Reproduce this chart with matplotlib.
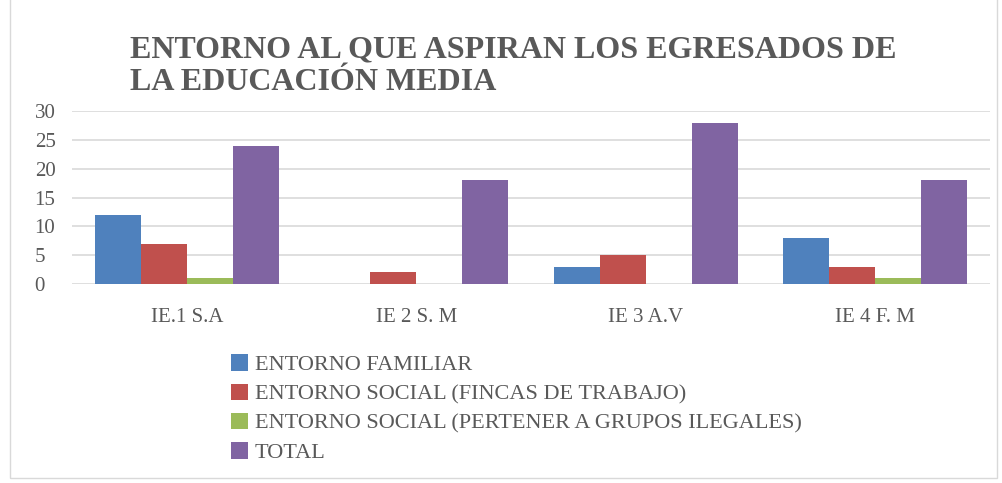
import numpy as np
import matplotlib.pyplot as plt
from matplotlib.patches import Rectangle

categories = ["IE.1 S.A", "IE 2 S. M", "IE 3 A.V", "IE 4 F. M"]
familiar = [12, 0, 3, 8]
fincas = [7, 2, 5, 3]
ilegales = [1, 0, 0, 1]
total = [24, 18, 28, 18]

series_names = ["ENTORNO FAMILIAR",
                "ENTORNO SOCIAL (FINCAS DE TRABAJO)",
                "ENTORNO SOCIAL (PERTENER A GRUPOS ILEGALES)",
                "TOTAL"]
colors = ["#4f81bd", "#c0504d", "#9bbb59", "#8064a2"]
text_color = "#595959"
font = "Liberation Serif"

fig = plt.figure(figsize=(10.02, 4.83), dpi=100)
ax = fig.add_axes([0.072, 0.412, 0.916, 0.358])

x = np.arange(len(categories))
width = 0.2
for i, (vals, name, c) in enumerate(zip([familiar, fincas, ilegales, total], series_names, colors)):
    ax.bar(x + (i - 1.5) * width, vals, width, color=c, label=name, zorder=3)

ax.set_xlim(-0.5, len(categories) - 0.5)
ax.set_ylim(0, 30)
ax.set_yticks(range(0, 31, 5))
ax.set_xticks(x)
ax.set_xticklabels(categories)
ax.grid(axis="y", color="#d9d9d9", linewidth=1.2, zorder=0)
for s in ax.spines.values():
    s.set_visible(False)
ax.tick_params(length=0, labelcolor=text_color, labelsize=15)
ax.tick_params(axis="x", pad=17)
ax.tick_params(axis="y", pad=27)
for lab in ax.get_xticklabels() + ax.get_yticklabels():
    lab.set_fontfamily(font)
for lab in ax.get_yticklabels():
    lab.set_horizontalalignment("left")

fig.text(0.13, 0.80, "ENTORNO AL QUE ASPIRAN LOS EGRESADOS DE\nLA EDUCACIÓN MEDIA",
         fontsize=23, fontweight="bold", color=text_color, family=font,
         linespacing=1.15, ha="left", va="bottom")

handles, labels = ax.get_legend_handles_labels()
leg = fig.legend(handles, labels, loc="upper left", bbox_to_anchor=(0.222, 0.285),
                 frameon=False, prop={"family": font, "size": 16},
                 handlelength=0.75, handleheight=0.75, handletextpad=0.3,
                 labelspacing=0.38, borderaxespad=0)
for t in leg.get_texts():
    t.set_color(text_color)

fig.patches.append(Rectangle((0.01, 0.01), 0.985, 1.2, transform=fig.transFigure,
                             fill=False, edgecolor="#d9d9d9", linewidth=1))

fig.savefig("out.png", dpi=100)
